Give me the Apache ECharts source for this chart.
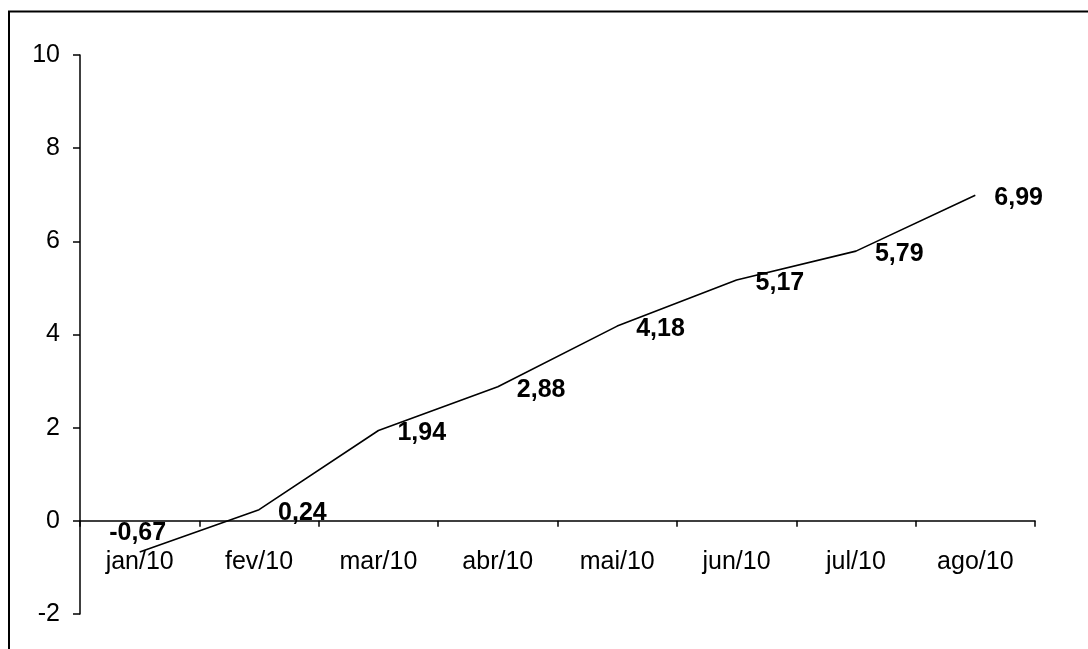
<!DOCTYPE html>
<html>
<head>
<meta charset="utf-8">
<style>
  html, body { margin: 0; padding: 0; background: #fff; }
  #chart { width: 1088px; height: 649px; }
</style>
<script src="https://cdn.jsdelivr.net/npm/echarts@6/dist/echarts.min.js"></script>
</head>
<body>
<div id="chart"></div>
<script>
// Monthly accumulated values, 2010
const months = ['jan/10', 'fev/10', 'mar/10', 'abr/10', 'mai/10', 'jun/10', 'jul/10', 'ago/10'];
const values = [-0.67, 0.24, 1.94, 2.88, 4.18, 5.17, 5.79, 6.99];
const yTicks = { min: -2, max: 10, interval: 2 };

const FONT = '"Liberation Sans", Arial, sans-serif';
const fmt = v => v.toFixed(2).replace('.', ',');

const W = 1088, H = 649;
const GRID = { left: 80, right: 53, top: 55, bottom: 35 };

// The category axis sits on the zero line of the value axis
const plotHeight = H - GRID.top - GRID.bottom;
const zeroLift = plotHeight * (0 - yTicks.min) / (yTicks.max - yTicks.min);

const chart = echarts.init(document.getElementById('chart'), null, { renderer: 'canvas' });

// Negative points carry their label above the line, the rest to the right
const seriesData = values.map(v => v < 0
  ? { value: v, label: { position: 'top', distance: 6, offset: [-2, 0] } }
  : { value: v });

chart.setOption({
  animation: false,
  backgroundColor: '#ffffff',
  grid: {
    left: GRID.left, right: GRID.right, top: GRID.top, bottom: GRID.bottom,
    containLabel: false, outerBoundsMode: 'none'
  },
  xAxis: {
    type: 'category',
    data: months,
    boundaryGap: true,
    position: 'bottom',
    offset: -zeroLift,
    axisLine: { onZero: false, lineStyle: { color: '#000', width: 1.5 } },
    axisTick: { show: true, length: 6, lineStyle: { color: '#000', width: 1.5 } },
    axisLabel: { color: '#000', fontFamily: FONT, fontSize: 25, margin: 29 },
    splitLine: { show: false }
  },
  yAxis: {
    type: 'value',
    min: yTicks.min,
    max: yTicks.max,
    interval: yTicks.interval,
    axisLine: { show: true, lineStyle: { color: '#000', width: 1.5 } },
    axisTick: { show: true, length: 7, lineStyle: { color: '#000', width: 1.5 } },
    axisLabel: { color: '#000', fontFamily: FONT, fontSize: 25, margin: 20 },
    splitLine: { show: false }
  },
  series: [{
    type: 'line',
    data: seriesData,
    symbol: 'circle',
    symbolSize: 0,
    showSymbol: true,
    lineStyle: { color: '#000', width: 1.6 },
    itemStyle: { color: '#000' },
    label: {
      show: true,
      position: 'right',
      distance: 19,
      offset: [0, 3],
      color: '#000',
      fontFamily: FONT,
      fontWeight: 'bold',
      fontSize: 25,
      formatter: p => fmt(p.value)
    },
    emphasis: { disabled: true }
  }],
  graphic: [
    // outer frame: left and top edges
    { type: 'line', shape: { x1: 9, y1: 11, x2: 9, y2: H }, style: { stroke: '#000', lineWidth: 2 }, silent: true },
    { type: 'line', shape: { x1: 8, y1: 11.5, x2: W, y2: 11.5 }, style: { stroke: '#000', lineWidth: 2 }, silent: true }
  ]
});
</script>
</body>
</html>
